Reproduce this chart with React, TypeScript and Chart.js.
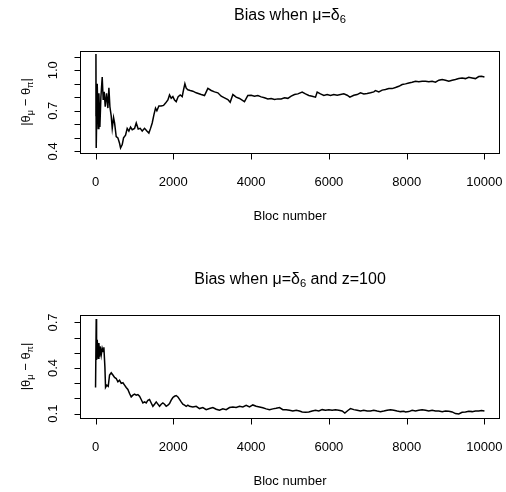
import React, { useEffect, useRef } from "react";
import { Chart, registerables } from "chart.js";

Chart.register(...registerables);

// ---- Data ----
const topSteps = [0, 10, 17, 43, 69, 86, 111, 137, 171, 197, 223, 249, 283, 317, 343, 369, 403, 429, 463, 489, 531, 574, 617, 643, 686, 720, 771, 814, 857, 900, 943, 1003, 1046, 1097, 1149, 1200, 1260, 1320, 1371, 1414, 1457, 1500, 1542, 1577, 1628, 1688, 1748, 1800, 1860, 1902, 1945, 1988, 2031, 2074, 2125, 2177, 2228, 2262, 2297, 2331, 2374, 2434, 2502, 2587, 2716, 2802, 2888, 2974, 3060, 3145, 3231, 3316, 3402, 3462, 3531, 3616, 3702, 3788, 3830, 3916, 4002, 4087, 4173, 4259, 4344, 4430, 4516, 4602, 4687, 4773, 4859, 4945, 5030, 5116, 5202, 5313, 5398, 5484, 5570, 5656, 5699, 5784, 5870, 5956, 6041, 6127, 6213, 6299, 6384, 6470, 6539, 6641, 6727, 6812, 6898, 6984, 7070, 7155, 7198, 7284, 7370, 7455, 7541, 7627, 7712, 7798, 7884, 7970, 8055, 8141, 8227, 8312, 8398, 8484, 8570, 8655, 8741, 8827, 8913, 8998, 9084, 9170, 9254, 9340, 9426, 9512, 9597, 9683, 9769, 9854, 9923, 10000];
const topBias = [0.66, 1.12, 0.425, 0.9, 0.57, 0.83, 0.58, 0.8, 0.95, 0.78, 0.84, 0.73, 0.83, 0.72, 0.87, 0.73, 0.66, 0.57, 0.65, 0.61, 0.51, 0.5, 0.46, 0.425, 0.45, 0.5, 0.52, 0.57, 0.55, 0.58, 0.56, 0.57, 0.61, 0.565, 0.57, 0.55, 0.57, 0.55, 0.535, 0.57, 0.61, 0.67, 0.72, 0.7, 0.735, 0.735, 0.74, 0.757, 0.78, 0.817, 0.793, 0.805, 0.78, 0.768, 0.805, 0.817, 0.805, 0.855, 0.9, 0.867, 0.855, 0.85, 0.845, 0.833, 0.82, 0.813, 0.866, 0.85, 0.84, 0.833, 0.808, 0.796, 0.783, 0.763, 0.82, 0.801, 0.791, 0.776, 0.768, 0.813, 0.815, 0.808, 0.813, 0.803, 0.796, 0.788, 0.791, 0.783, 0.788, 0.788, 0.796, 0.792, 0.808, 0.82, 0.825, 0.838, 0.825, 0.813, 0.808, 0.801, 0.838, 0.825, 0.813, 0.82, 0.813, 0.82, 0.815, 0.82, 0.825, 0.815, 0.801, 0.815, 0.82, 0.833, 0.825, 0.828, 0.833, 0.84, 0.85, 0.84, 0.853, 0.857, 0.864, 0.864, 0.872, 0.881, 0.894, 0.899, 0.906, 0.911, 0.918, 0.914, 0.918, 0.918, 0.914, 0.918, 0.911, 0.926, 0.931, 0.926, 0.918, 0.926, 0.931, 0.938, 0.943, 0.938, 0.948, 0.943, 0.938, 0.953, 0.955, 0.95];

const bottomSteps = [0, 17, 26, 43, 69, 86, 103, 120, 146, 171, 197, 214, 240, 257, 291, 326, 360, 403, 446, 489, 531, 574, 617, 660, 703, 746, 788, 831, 874, 917, 960, 1003, 1046, 1088, 1131, 1174, 1217, 1260, 1303, 1346, 1388, 1431, 1474, 1517, 1560, 1603, 1645, 1688, 1731, 1774, 1817, 1860, 1902, 1945, 1988, 2031, 2074, 2117, 2160, 2202, 2245, 2288, 2331, 2374, 2416, 2502, 2587, 2673, 2759, 2845, 2931, 3017, 3102, 3188, 3273, 3359, 3445, 3531, 3616, 3702, 3788, 3873, 3959, 4044, 4130, 4216, 4301, 4387, 4473, 4559, 4644, 4730, 4816, 4901, 4987, 5073, 5159, 5244, 5313, 5398, 5484, 5570, 5656, 5741, 5827, 5913, 5998, 6084, 6170, 6255, 6341, 6410, 6496, 6555, 6641, 6727, 6812, 6898, 6984, 7069, 7155, 7241, 7326, 7412, 7498, 7584, 7669, 7755, 7841, 7927, 7970, 8055, 8141, 8227, 8312, 8398, 8484, 8570, 8655, 8741, 8827, 8913, 8998, 9084, 9170, 9254, 9340, 9426, 9512, 9597, 9683, 9769, 9854, 9923, 10000];
const bottomBias = [0.272, 0.722, 0.453, 0.585, 0.464, 0.564, 0.475, 0.542, 0.486, 0.53, 0.508, 0.537, 0.409, 0.272, 0.287, 0.28, 0.354, 0.369, 0.354, 0.338, 0.331, 0.309, 0.32, 0.299, 0.303, 0.287, 0.272, 0.259, 0.232, 0.21, 0.221, 0.228, 0.221, 0.225, 0.214, 0.193, 0.17, 0.177, 0.17, 0.188, 0.193, 0.17, 0.148, 0.162, 0.177, 0.162, 0.148, 0.162, 0.17, 0.162, 0.148, 0.155, 0.166, 0.188, 0.206, 0.214, 0.219, 0.21, 0.193, 0.177, 0.162, 0.155, 0.148, 0.155, 0.148, 0.144, 0.148, 0.133, 0.14, 0.126, 0.133, 0.14, 0.129, 0.122, 0.131, 0.126, 0.14, 0.144, 0.14, 0.148, 0.144, 0.155, 0.144, 0.157, 0.148, 0.144, 0.138, 0.131, 0.126, 0.131, 0.135, 0.14, 0.126, 0.126, 0.122, 0.117, 0.122, 0.117, 0.111, 0.109, 0.111, 0.117, 0.122, 0.117, 0.126, 0.122, 0.126, 0.122, 0.126, 0.122, 0.117, 0.104, 0.122, 0.133, 0.126, 0.122, 0.117, 0.122, 0.117, 0.117, 0.122, 0.117, 0.113, 0.117, 0.122, 0.126, 0.122, 0.117, 0.113, 0.115, 0.111, 0.113, 0.122, 0.117, 0.122, 0.126, 0.122, 0.117, 0.122, 0.117, 0.117, 0.113, 0.117, 0.115, 0.111, 0.1, 0.098, 0.109, 0.111, 0.115, 0.113, 0.117, 0.117, 0.12, 0.117];

const xTicks = [0, 2000, 4000, 6000, 8000, 10000];
const topYTicks = [0.4, 0.5, 0.6, 0.7, 0.8, 0.9, 1.0, 1.1];
const topYLabels = ["0.4", "0.7", "1.0"];
const bottomYTicks = [0.1, 0.2, 0.3, 0.4, 0.5, 0.6, 0.7];
const bottomYLabels = ["0.1", "0.4", "0.7"];

const topTitle = [{ t: "Bias when \u03bc=\u03b4" }, { t: "6", sub: true }];
const bottomTitle = [{ t: "Bias when \u03bc=\u03b4" }, { t: "6", sub: true }, { t: " and z=100" }];
const yTitle = [{ t: "|\u03b8" }, { t: "\u03bc", sub: true }, { t: " \u2212 \u03b8" }, { t: "\u03c0", sub: true }, { t: "|" }];
const xTitle = "Bloc number";

const FAMILY = "'Liberation Sans', Arial, Helvetica, sans-serif";

type Part = { t: string; sub?: boolean };

function drawParts(ctx: CanvasRenderingContext2D, parts: Part[], cx: number, cy: number, size: number) {
  const subSize = size * 0.7;
  const widths = parts.map((p) => {
    ctx.font = `${p.sub ? subSize : size}px ${FAMILY}`;
    return ctx.measureText(p.t).width;
  });
  const total = widths.reduce((a, b) => a + b, 0);
  let x = cx - total / 2;
  const base = cy + size * 0.36;
  ctx.textAlign = "left";
  ctx.textBaseline = "alphabetic";
  parts.forEach((p, i) => {
    ctx.font = `${p.sub ? subSize : size}px ${FAMILY}`;
    ctx.fillText(p.t, x, p.sub ? base + size * 0.22 : base);
    x += widths[i];
  });
}

type PanelProps = {
  steps: number[];
  values: number[];
  yMin: number;
  yMax: number;
  yTicks: number[];
  yLabels: string[];
  title: Part[];
  padTop: number;
  padBottom: number;
};

function Panel(props: PanelProps) {
  const ref = useRef<HTMLCanvasElement | null>(null);
  useEffect(() => {
    const canvas = ref.current;
    if (!canvas) return;
    const rAxes = {
      id: "rAxes",
      afterDraw(chart: any) {
        const ctx: CanvasRenderingContext2D = chart.ctx;
        const a = chart.chartArea;
        const xs = chart.scales.x;
        const ys = chart.scales.y;
        ctx.save();
        ctx.strokeStyle = "#000";
        ctx.fillStyle = "#000";
        ctx.lineWidth = 1;
        const L = Math.round(a.left) + 0.5;
        const R = Math.round(a.right) - 0.5;
        const T = Math.round(a.top) + 0.5;
        const B = Math.round(a.bottom) + 0.5;
        ctx.strokeRect(L, T, R - L, B - T);
        // x axis
        const x0 = Math.round(xs.getPixelForValue(xTicks[0])) + 0.5;
        const x1 = Math.round(xs.getPixelForValue(xTicks[xTicks.length - 1])) + 0.5;
        ctx.beginPath();
        ctx.moveTo(x0, B);
        ctx.lineTo(x1, B);
        xTicks.forEach((v) => {
          const px = Math.round(xs.getPixelForValue(v)) + 0.5;
          ctx.moveTo(px, B);
          ctx.lineTo(px, B + 6);
        });
        ctx.stroke();
        ctx.font = `13px ${FAMILY}`;
        ctx.textAlign = "center";
        ctx.textBaseline = "middle";
        xTicks.forEach((v) => {
          ctx.fillText(String(v), xs.getPixelForValue(v), B + 29);
        });
        // y axis
        ctx.beginPath();
        const yTicks = props.yTicks;
        ctx.moveTo(L, Math.round(ys.getPixelForValue(yTicks[0])) + 0.5);
        ctx.lineTo(L, Math.round(ys.getPixelForValue(yTicks[yTicks.length - 1])) + 0.5);
        yTicks.forEach((v) => {
          const py = Math.round(ys.getPixelForValue(v)) + 0.5;
          ctx.moveTo(L, py);
          ctx.lineTo(L - 6, py);
        });
        ctx.stroke();
        props.yLabels.forEach((lab) => {
          const py = ys.getPixelForValue(parseFloat(lab));
          ctx.save();
          ctx.translate(a.left - 27, py);
          ctx.rotate(-Math.PI / 2);
          ctx.font = `13px ${FAMILY}`;
          ctx.textAlign = "center";
          ctx.textBaseline = "middle";
          ctx.fillText(lab, 0, 0);
          ctx.restore();
        });
        // titles
        drawParts(ctx, props.title, (a.left + a.right) / 2, a.top - 37, 16);
        ctx.font = `13px ${FAMILY}`;
        ctx.textAlign = "center";
        ctx.textBaseline = "middle";
        ctx.fillText(xTitle, (a.left + a.right) / 2, a.bottom + 63);
        ctx.save();
        ctx.translate(25, (a.top + a.bottom) / 2);
        ctx.rotate(-Math.PI / 2);
        drawParts(ctx, yTitle, 0, 0, 13);
        ctx.restore();
        ctx.restore();
      },
    };
    const chart = new Chart(canvas, {
      type: "line",
      data: {
        datasets: [
          {
            data: props.steps.map((s, i) => ({ x: s, y: props.values[i] })),
            borderColor: "#000",
            borderWidth: 1.5,
            pointRadius: 0,
            tension: 0,
            fill: false,
          },
        ],
      },
      options: {
        animation: false,
        responsive: false,
        devicePixelRatio: 1,
        layout: { padding: { left: 80, right: 6, top: props.padTop, bottom: props.padBottom } },
        plugins: { legend: { display: false }, tooltip: { enabled: false }, title: { display: false } },
        scales: {
          x: { type: "linear", min: -400, max: 10400, display: false },
          y: { type: "linear", min: props.yMin, max: props.yMax, display: false },
        },
      },
      plugins: [rAxes],
    });
    return () => chart.destroy();
  }, []);
  return <canvas ref={ref} width={506} height={246} style={{ display: "block", width: 506, height: 246 }} />;
}

export default function App() {
  return (
    <div style={{ position: "absolute", left: 0, top: 0, width: 506, height: 492, background: "#fff" }}>
      <Panel steps={topSteps} values={topBias} yMin={0.388} yMax={1.142} yTicks={topYTicks} yLabels={topYLabels} title={topTitle} padTop={51} padBottom={93} />
      <Panel steps={bottomSteps} values={bottomBias} yMin={0.071} yMax={0.749} yTicks={bottomYTicks} yLabels={bottomYLabels} title={bottomTitle} padTop={69} padBottom={74} />
    </div>
  );
}
